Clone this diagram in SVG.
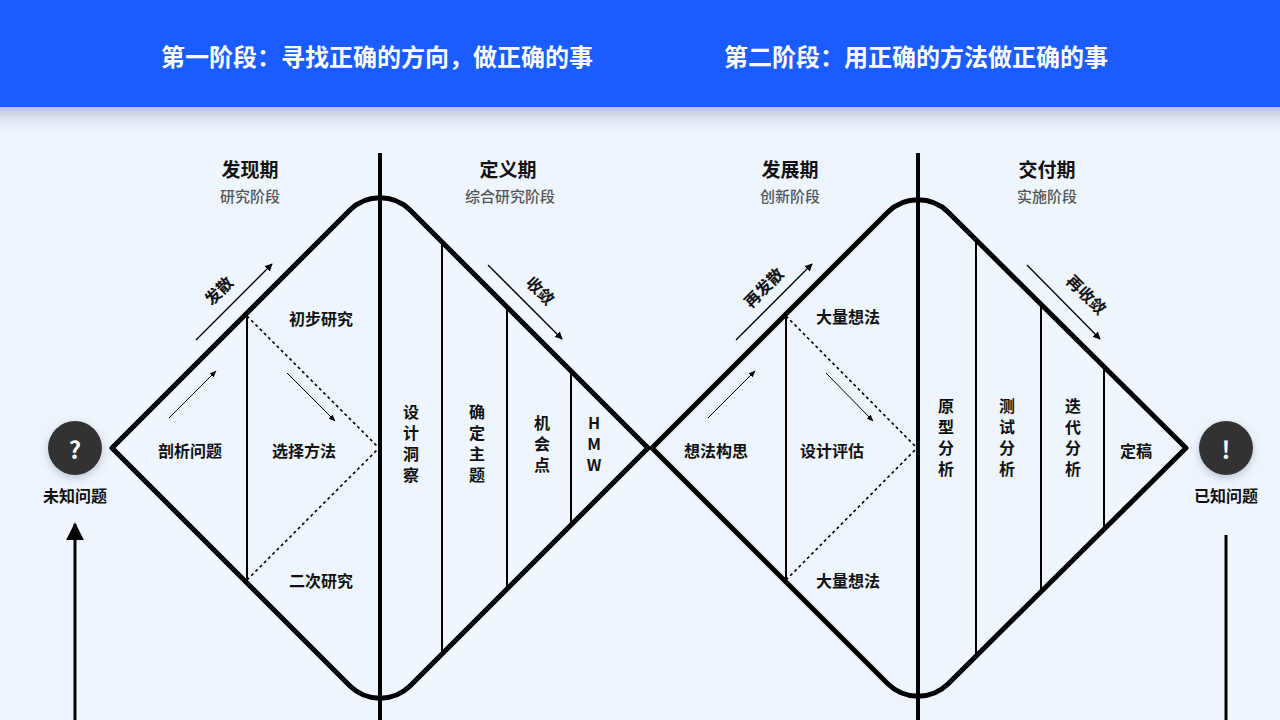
<svg xmlns="http://www.w3.org/2000/svg" width="1280" height="720" viewBox="0 0 1280 720">
<defs>
<marker id="ah" viewBox="0 0 10 10" refX="9" refY="5" markerWidth="6" markerHeight="6" orient="auto"><path d="M0,0L10,5L0,10z" fill="#000"/></marker>
<marker id="ahs" viewBox="0 0 10 10" refX="9" refY="5" markerWidth="7" markerHeight="7" orient="auto"><path d="M0,1L10,5L0,9z" fill="#000"/></marker>
<linearGradient id="sh" x1="0" y1="0" x2="0" y2="1"><stop offset="0" stop-color="#b9c3d3"/><stop offset="1" stop-color="#eef5fd" stop-opacity="0"/></linearGradient>
<filter id="cs" x="-50%" y="-50%" width="200%" height="200%"><feDropShadow dx="0" dy="3" stdDeviation="4" flood-color="#6a7a99" flood-opacity="0.4"/></filter>
</defs>
<style>
text{font-family:"Noto Sans CJK SC","Noto Sans",sans-serif;font-weight:700;fill:#111;text-anchor:middle;dominant-baseline:central}
.hd{fill:#fff;font-size:24px}
.t{font-size:19px}
.s{font-size:15px;fill:#555;font-weight:500}
.l{font-size:16px}
.vt{font-size:16px;writing-mode:vertical-rl;text-orientation:upright;letter-spacing:5px;dominant-baseline:auto}
.d{fill:none;stroke:#000;stroke-width:5;stroke-linejoin:round}
.v{stroke:#000;stroke-width:2}
.dot{stroke:#000;stroke-width:1.6;stroke-dasharray:3 3}
.a{stroke:#000;stroke-width:1.3;marker-end:url(#ah)}
.as{stroke:#000;stroke-width:1;marker-end:url(#ahs)}
</style>
<rect width="1280" height="720" fill="#eef5fd"/>
<rect y="107" width="1280" height="30" fill="url(#sh)"/>
<rect width="1280" height="107" fill="#1a5cff"/>
<text class="hd" x="377" y="55">第一阶段：寻找正确的方向，做正确的事</text>
<text class="hd" x="916" y="55">第二阶段：用正确的方法做正确的事</text>

<g id="diamond1">
<path class="d" d="M112,448 L350,210 A43,43 0 0 1 410,210 L648,448 L410,686 A43,43 0 0 1 350,686 Z"/>
</g>
<g id="diamond2">
<path class="d" d="M652,448 L888,212 A43,43 0 0 1 948,212 L1186,448 L948,684 A43,43 0 0 1 888,684 Z"/>
</g>

<g id="connectors">
<line x1="380" y1="153" x2="380" y2="720" stroke="#000" stroke-width="4"/>
<line x1="918" y1="153" x2="918" y2="720" stroke="#000" stroke-width="4"/>
<line class="v" x1="247" y1="315" x2="247" y2="581"/>
<line class="v" x1="442" y1="244" x2="442" y2="652"/>
<line class="v" x1="507" y1="309" x2="507" y2="587"/>
<line class="v" x1="571" y1="373" x2="571" y2="523"/>
<line class="v" x1="786" y1="316" x2="786" y2="580"/>
<line class="v" x1="976" y1="240" x2="976" y2="656"/>
<line class="v" x1="1041" y1="305" x2="1041" y2="591"/>
<line class="v" x1="1104" y1="368" x2="1104" y2="528"/>
<line class="dot" x1="247" y1="316" x2="378" y2="447"/>
<line class="dot" x1="247" y1="580" x2="378" y2="449"/>
<line class="dot" x1="786" y1="316" x2="916" y2="447"/>
<line class="dot" x1="786" y1="580" x2="916" y2="449"/>
<line class="a" x1="196" y1="340" x2="272" y2="264"/>
<line class="a" x1="488" y1="265" x2="562" y2="339"/>
<line class="a" x1="736" y1="340" x2="812" y2="264"/>
<line class="a" x1="1027" y1="265" x2="1100" y2="339"/>
<line class="as" x1="169" y1="418" x2="216" y2="371"/>
<line class="as" x1="287" y1="373" x2="335" y2="421"/>
<line class="as" x1="708" y1="418" x2="755" y2="371"/>
<line class="as" x1="826" y1="373" x2="873" y2="421"/>
<line x1="75" y1="720" x2="75" y2="524" stroke="#000" stroke-width="3" marker-end="url(#ah)"/>
<line x1="1226" y1="535" x2="1226" y2="720" stroke="#000" stroke-width="3"/>
</g>

<g id="flow-labels">
<text class="l" transform="translate(218,290) rotate(-45)">发散</text>
<text class="l" transform="translate(541,290) rotate(45)">收敛</text>
<text class="l" transform="translate(763,287) rotate(-45)">再发散</text>
<text class="l" transform="translate(1087,294) rotate(45)">再收敛</text>
</g>

<g id="phases">
<text class="t" x="250" y="168">发现期</text><text class="s" x="250" y="195">研究阶段</text>
<text class="t" x="508" y="168">定义期</text><text class="s" x="510" y="195">综合研究阶段</text>
<text class="t" x="790" y="168">发展期</text><text class="s" x="790" y="195">创新阶段</text>
<text class="t" x="1047" y="168">交付期</text><text class="s" x="1047" y="195">实施阶段</text>
</g>

<g id="start">
<circle cx="75" cy="448" r="27" fill="#333" filter="url(#cs)"/>
<text x="75" y="448" style="fill:#fff;font-size:24px">?</text>
<text class="l" x="75" y="495">未知问题</text>
</g>
<g id="end">
<circle cx="1226" cy="448" r="27" fill="#333" filter="url(#cs)"/>
<text x="1226" y="448" style="fill:#fff;font-size:24px">!</text>
<text class="l" x="1226" y="495">已知问题</text>
</g>

<g id="stage1">
<text class="l" x="321" y="318">初步研究</text>
<text class="l" x="190" y="450">剖析问题</text>
<text class="l" x="304" y="450">选择方法</text>
<text class="l" x="321" y="580">二次研究</text>
<text class="vt" x="411" y="446">设计洞察</text>
<text class="vt" x="477" y="446">确定主题</text>
<text class="vt" x="542" y="446">机会点</text>
<text class="vt" x="594" y="446">HMW</text>
</g>
<g id="stage2">
<text class="l" x="848" y="316">大量想法</text>
<text class="l" x="716" y="450">想法构思</text>
<text class="l" x="832" y="450">设计评估</text>
<text class="l" x="848" y="580">大量想法</text>
<text class="vt" x="946" y="440">原型分析</text>
<text class="vt" x="1007" y="440">测试分析</text>
<text class="vt" x="1073" y="440">迭代分析</text>
<text class="l" x="1136" y="450">定稿</text>
</g>
</svg>
